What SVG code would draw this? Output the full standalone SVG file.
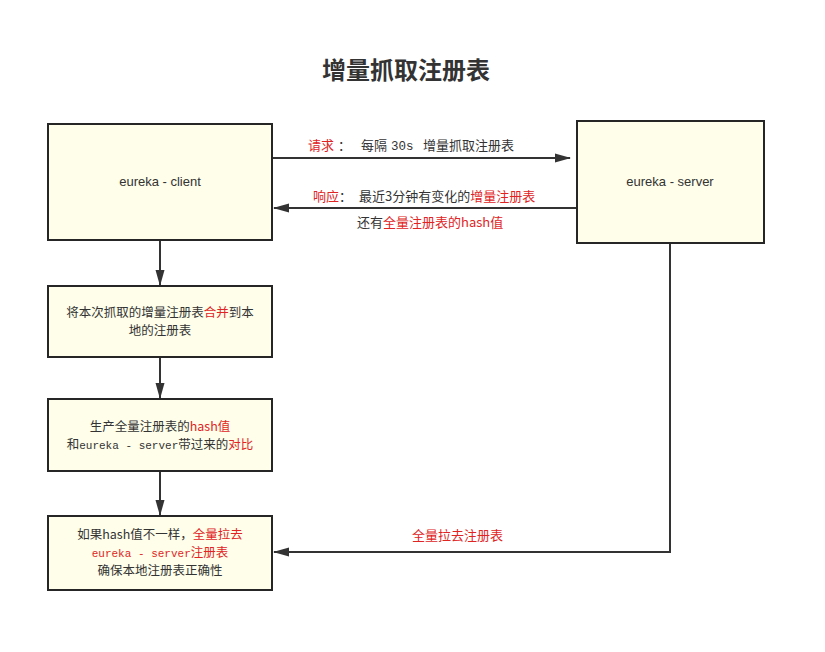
<svg xmlns="http://www.w3.org/2000/svg" width="825" height="652" viewBox="0 0 825 652">
<style>
text{font-family:"Noto Sans CJK SC","Liberation Sans",sans-serif;font-size:13px;fill:#333}
.b{font-size:12.5px}
.t{font-size:24px;font-weight:bold;fill:#333}
.r{fill:#e02424}
.m{font-family:"Liberation Mono","Noto Sans CJK SC",monospace;font-size:11px}
.s{font-family:"Liberation Sans",sans-serif;font-size:13px}
.box{fill:#fefeea;stroke:#262626;stroke-width:2}
.ln{fill:none;stroke:#333;stroke-width:2}
</style>
<defs>
<marker id="ah2" viewBox="0 0 16 10" refX="15" refY="5" markerWidth="16" markerHeight="10" markerUnits="userSpaceOnUse" orient="auto">
<path d="M0,0.5 L16,5 L0,9.5 Z" fill="#333"/>
</marker>
</defs>
<rect width="825" height="652" fill="#fff"/>
<text class="t" x="406" y="79" text-anchor="middle">增量抓取注册表</text>
<g id="connectors">
<line class="ln" x1="273" y1="158" x2="570" y2="158" marker-end="url(#ah2)"/>
<line class="ln" x1="576" y1="208" x2="274" y2="208" marker-end="url(#ah2)"/>
<line class="ln" x1="160" y1="240" x2="160" y2="285" marker-end="url(#ah2)"/>
<line class="ln" x1="160" y1="358" x2="160" y2="398" marker-end="url(#ah2)"/>
<line class="ln" x1="160" y1="472" x2="160" y2="515" marker-end="url(#ah2)"/>
<polyline class="ln" points="670,243 670,552 274,552" marker-end="url(#ah2)"/>
<text y="150"><tspan class="r" x="308">请求</tspan><tspan x="338">：</tspan><tspan x="361">每隔</tspan><tspan class="m" x="391" style="font-size:12.5px">30s</tspan><tspan x="423">增量抓取注册表</tspan></text>
<text y="201"><tspan class="r" x="313">响应</tspan><tspan x="339">：</tspan><tspan x="359">最近3分钟有变化的</tspan><tspan class="r">增量注册表</tspan></text>
<text x="357" y="227">还有<tspan class="r">全量注册表的hash值</tspan></text>
<text class="r" x="412" y="540">全量拉去注册表</text>
</g>
<g id="client">
<rect class="box" x="48" y="124" width="224" height="116"/>
<text class="s" x="160" y="186" text-anchor="middle">eureka - client</text>
</g>
<g id="server">
<rect class="box" x="577" y="121" width="187" height="122"/>
<text class="s" x="670" y="186" text-anchor="middle">eureka - server</text>
</g>
<g id="merge">
<rect class="box" x="48" y="286" width="224" height="71"/>
<text class="b" x="160" y="317" text-anchor="middle">将本次抓取的增量注册表<tspan class="r">合并</tspan>到本</text>
<text class="b" x="160" y="335" text-anchor="middle">地的注册表</text>
</g>
<g id="hash">
<rect class="box" x="48" y="399" width="224" height="72"/>
<text class="b" x="160" y="431" text-anchor="middle">生产全量注册表的<tspan class="r">hash值</tspan></text>
<text class="b" x="160" y="449" text-anchor="middle">和<tspan class="m">eureka - server</tspan>带过来的<tspan class="r">对比</tspan></text>
</g>
<g id="full">
<rect class="box" x="48" y="516" width="224" height="74"/>
<text class="b" x="160" y="539" text-anchor="middle">如果hash值不一样，<tspan class="r">全量拉去</tspan></text>
<text class="b r" x="160" y="557" text-anchor="middle"><tspan class="m r">eureka - server</tspan>注册表</text>
<text class="b" x="160" y="575" text-anchor="middle">确保本地注册表正确性</text>
</g>
</svg>
